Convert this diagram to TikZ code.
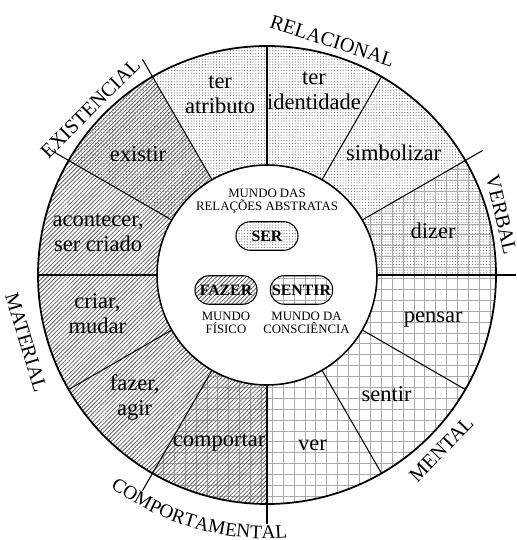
\documentclass[tikz,border=0pt]{standalone}
\usepackage{fontspec}
\setmainfont{Liberation Serif}
\usetikzlibrary{patterns.meta,decorations.text,positioning}
\definecolor{cinzahachura}{RGB}{95,95,95}
\definecolor{cinzagrade}{RGB}{170,170,170}
\definecolor{cinzaponto}{RGB}{110,110,110}
\newcommand{\raioext}{4.58}
\newcommand{\raioint}{2.2}
\tikzset{
  pontos/.style={pattern={Dots[distance=1.6pt,radius=0.33pt]},pattern color=cinzaponto},
  hachura/.style={pattern={Lines[angle=45,distance=1.7pt,line width=0.45pt]},pattern color=cinzahachura},
  grade/.style={pattern={Hatch[angle=0,distance=6.2pt,line width=0.55pt]},pattern color=cinzagrade},
  hachpontos/.style={hachura,preaction={pontos}},
  gradepontos/.style={grade,preaction={pontos}},
  gradehach/.style={hachura,preaction={grade}},
  processo/.style={align=center,inner sep=1pt,font=\fontsize{12.8}{14.2}\selectfont},
  categoria/.style={inner sep=0pt,font=\fontsize{11.5}{12}\selectfont},
  mundo/.style={rectangle,rounded corners=2.8mm,draw,line width=0.6pt,
    minimum width=1.24cm,minimum height=0.57cm,inner sep=1pt,
    font=\fontsize{9}{10}\selectfont\bfseries},
  legenda/.style={align=center,inner sep=0pt,font=\fontsize{7.3}{7.6}\selectfont}
}

\begin{document}
\begin{tikzpicture}
\useasboundingbox (-5.34,-5.30) rectangle (4.98,5.50);

% setores
\foreach \a/\pad in {0/gradepontos,30/pontos,60/pontos,90/pontos,120/hachpontos,
    150/hachura,180/hachura,210/hachura,240/gradehach,270/grade,300/grade,330/grade}
  \fill[\pad] (\a:\raioint) arc[start angle=\a,delta angle=30,radius=\raioint]
    -- (\a+30:\raioext) arc[start angle=\a+30,delta angle=-30,radius=\raioext] -- cycle;
\foreach \a in {0,30,...,330}
  \draw[line width=0.6pt] (\a:\raioint) -- (\a:\raioext);
\foreach \a in {0,30,120,150,240,270}
  \draw[line width=0.6pt] (\a:\raioext) -- (\a:\raioext+0.4);
\draw[line width=1pt] (0,0) circle[radius=\raioext];
\draw[line width=0.9pt,fill=white] (0,0) circle[radius=\raioint];

% processos
\foreach \nome/\ang/\r/\txt in {dizer/15/3.44/dizer, simbolizar/44/3.52/simbolizar,
    identidade/75.7/3.80/{ter\\identidade}, atributo/104.6/3.72/{ter\\atributo},
    existir/136.8/3.54/existir, acontecer/166/3.48/{acontecer,\\ser criado},
    criar/193/3.48/{criar,\\mudar}, fazer/222.7/3.60/{fazer,\\agir},
    comportar/254/3.48/comportar, ver/285/3.52/ver,
    sentir/315/3.38/sentir, pensar/345/3.44/pensar}
  \node[processo] (p-\nome) at (\ang:\r) {\txt};

% centro
\node[mundo,pontos] (ser) at (0,0.78) {SER};
\node[mundo,hachura] (fazer) at (-0.82,-0.30) {FAZER};
\node[mundo,grade] (sentir) at (0.69,-0.30) {SENTIR};
\node[legenda,above=1.5mm of ser] (abstrato) {MUNDO DAS\\RELAÇÕES ABSTRATAS};
\node[legenda,below=1.3mm of fazer] (fisico) {MUNDO\\FÍSICO};
\node[legenda,below=1.3mm of sentir,xshift=1mm] (consciencia) {MUNDO DA\\CONSCIÊNCIA};

% categorias
\node[categoria,rotate=-18] (relacional) at (74.4:4.86) {RELACIONAL};
\node[categoria,rotate=-77] (verbal) at (14.4:4.84) {VERBAL};
\node[categoria,rotate=46] (mental) at (-45:4.93) {MENTAL};
\node[categoria,rotate=-73] (material) at (195.6:5.0) {MATERIAL};
\node[categoria,rotate=45] (existencial) at (136.6:4.86) {EXISTENCIAL};
\path[decorate,decoration={text along path,text align=center,
    text={|\fontsize{11}{11}\selectfont|COMPORTAMENTAL}}]
  (224:5.27) arc[start angle=224,end angle=284,radius=5.27];
\end{tikzpicture}
\end{document}
